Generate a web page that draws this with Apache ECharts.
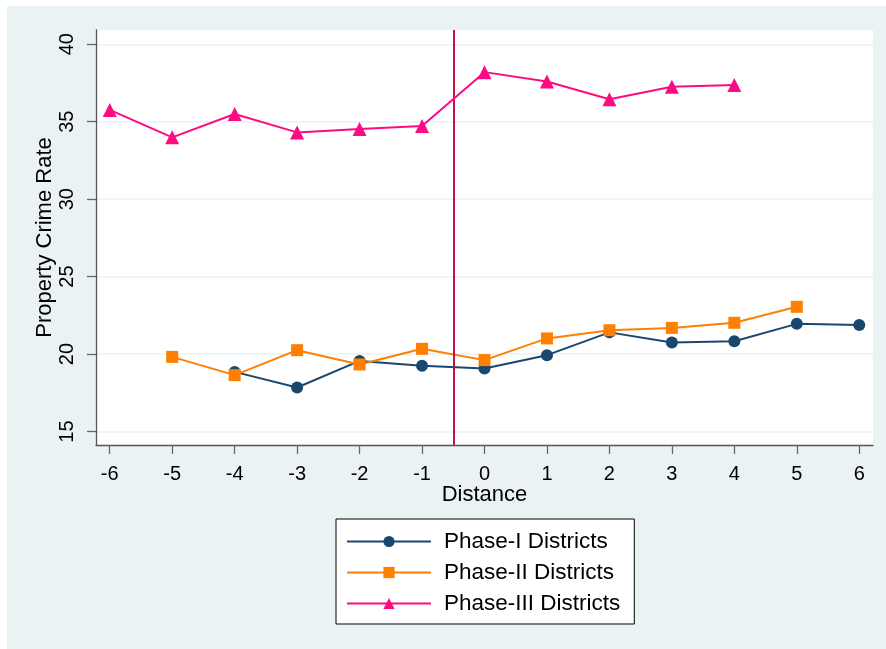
<!DOCTYPE html>
<html>
<head>
<meta charset="utf-8">
<script src="https://cdn.jsdelivr.net/npm/echarts@6/dist/echarts.min.js"></script>
<style>
html,body{margin:0;padding:0;background:#ffffff;}
#bg{position:absolute;left:7px;top:6px;width:879px;height:643px;background:#eaf2f3;}
#chart{position:absolute;left:0;top:0;width:886px;height:649px;}
</style>
</head>
<body>
<div id="bg"></div>
<div id="chart"></div>
<script>
const distance = [-6, -5, -4, -3, -2, -1, 0, 1, 2, 3, 4, 5, 6];
const phase1 = [null, null, 18.85, 17.84, 19.56, 19.24, 19.07, 19.93, 21.4, 20.75, 20.83, 21.95, 21.87];
const phase2 = [null, 19.82, 18.64, 20.25, 19.33, 20.34, 19.61, 21.01, 21.54, 21.69, 22.02, 23.05, null];
const phase3 = [35.76, 33.99, 35.5, 34.31, 34.53, 34.72, 38.2, 37.6, 36.45, 37.26, 37.37, null, null];
const yTicks = [15, 20, 25, 30, 35, 40];
const xTicks = [-6, -5, -4, -3, -2, -1, 0, 1, 2, 3, 4, 5, 6];
const cutoff = -0.5;
const seriesNames = ['Phase-I Districts', 'Phase-II Districts', 'Phase-III Districts'];

const FONT = '"Liberation Sans", Arial, sans-serif';
function pairs(vals) {
  const out = [];
  distance.forEach((d, i) => { if (vals[i] !== null) out.push([d, vals[i]]); });
  return out;
}

const chart = echarts.init(document.getElementById('chart'), null, {renderer: 'canvas'});
chart.setOption({
  backgroundColor: 'transparent',
  animation: false,
  textStyle: {fontFamily: FONT},
  grid: {
    left: 96, top: 30, right: 13, bottom: 204,
    show: true, backgroundColor: '#ffffff', borderWidth: 0,
    containLabel: false, outerBoundsMode: 'none'
  },
  xAxis: {
    type: 'value', min: -6.22, max: 6.22,
    name: 'Distance', nameLocation: 'middle', nameGap: 39, nameMoveOverlap: false,
    nameTextStyle: {fontSize: 22, color: '#000', fontFamily: FONT},
    axisLine: {show: true, onZero: false, lineStyle: {color: '#555', width: 1.3}},
    axisTick: {show: true, length: 9, customValues: xTicks, lineStyle: {color: '#666', width: 1.3}},
    axisLabel: {customValues: xTicks, fontSize: 20, color: '#000', margin: 19, fontFamily: FONT},
    splitLine: {show: false}
  },
  yAxis: {
    type: 'value', min: 14.13, max: 40.92,
    name: 'Property Crime Rate', nameLocation: 'middle', nameRotate: 90, nameGap: 40, nameMoveOverlap: false,
    nameTextStyle: {fontSize: 22, color: '#000', fontFamily: FONT},
    axisLine: {show: true, onZero: false, lineStyle: {color: '#555', width: 1.3}},
    axisTick: {show: true, length: 9, customValues: yTicks, lineStyle: {color: '#666', width: 1.3}},
    axisLabel: {customValues: yTicks, rotate: 90, fontSize: 20, color: '#000', margin: 19, fontFamily: FONT},
    splitLine: {show: true, lineStyle: {color: '#eaf2f3', width: 1.6}}
  },
  legend: {
    orient: 'vertical', left: 336, top: 519,
    padding: [11, 14, 9, 10],
    backgroundColor: '#ffffff', borderColor: '#000', borderWidth: 1, borderRadius: 0,
    itemWidth: 84, itemHeight: 14, itemGap: 8,
    textStyle: {fontSize: 22.5, color: '#000', fontFamily: FONT, padding: [0, 0, 0, 8]},
    data: seriesNames
  },
  series: [
    {
      name: seriesNames[0], type: 'line', data: pairs(phase1),
      symbol: 'circle', symbolSize: 12, z: 3,
      lineStyle: {color: '#1a476f', width: 2}, itemStyle: {color: '#1a476f'},
      markLine: {
        silent: true, symbol: ['none', 'none'], label: {show: false},
        lineStyle: {color: '#c8103e', width: 2, type: 'solid'},
        data: [{xAxis: cutoff}]
      }
    },
    {
      name: seriesNames[1], type: 'line', data: pairs(phase2),
      symbol: 'rect', symbolSize: 12, z: 4,
      lineStyle: {color: '#ff7f00', width: 2}, itemStyle: {color: '#ff7f00'}
    },
    {
      name: seriesNames[2], type: 'line', data: pairs(phase3),
      symbol: 'triangle', symbolSize: 14, z: 5,
      lineStyle: {color: '#ff0a82', width: 2}, itemStyle: {color: '#ff0a82'}
    }
  ]
});
</script>
</body>
</html>
